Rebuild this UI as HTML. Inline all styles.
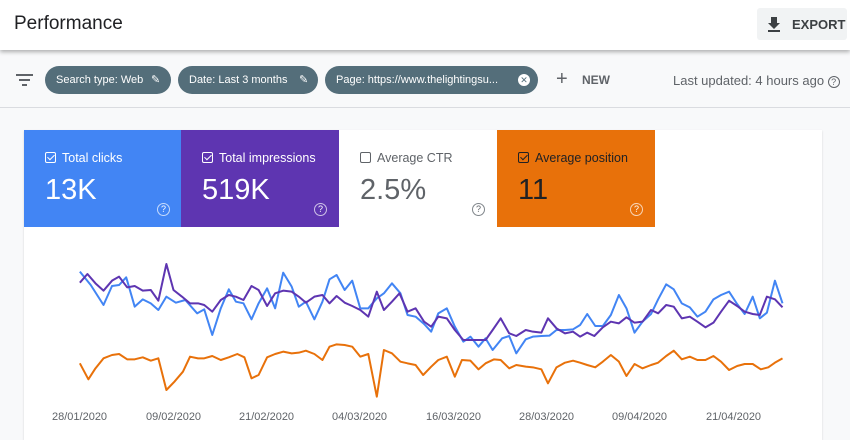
<!DOCTYPE html>
<html><head><meta charset="utf-8"><style>
*{margin:0;padding:0;box-sizing:border-box}
body{width:850px;height:434px;overflow:hidden;background:#f8f9fa;font-family:"Liberation Sans",Arial,sans-serif;position:relative}
.hdr{position:absolute;left:0;top:0;width:850px;height:50px;background:#fff;box-shadow:0 2px 4px rgba(0,0,0,.3);z-index:2}
.title{position:absolute;left:14px;top:13px;font-size:19px;color:#202124}
.exp{position:absolute;left:757px;top:8px;width:90px;height:32px;background:#f1f3f4;border-radius:3px;font-size:13px;color:#3c4043;font-weight:bold}
.chip{position:absolute;top:66px;height:28px;border-radius:14px;background:#546e7a;color:#fff;font-size:11px;line-height:28px;padding-left:11px;white-space:nowrap}
.chip .p{position:absolute;top:0}
.t{position:absolute;color:#5f6368;font-size:13px}
.tile{position:absolute;top:130px;height:97px;width:158px;color:#fff}
.tile .l{position:absolute;left:21px;top:21px;font-size:12.5px}
.tile .v{position:absolute;left:21px;top:44px;font-size:29px}
.tile .q{position:absolute;left:133px;top:73px;width:13px;height:13px;border:1.3px solid rgba(255,255,255,.7);border-radius:50%;font-size:9px;text-align:center;line-height:11px}
.cb{display:inline-block;width:11px;height:11px;border:1.4px solid #fff;border-radius:2px;margin-right:6px;vertical-align:-1px;position:relative}
.cb.k:after{content:"";position:absolute;left:2.5px;top:0px;width:3px;height:6px;border:solid currentColor;border-width:0 1.5px 1.5px 0;transform:rotate(45deg)}
.x{position:absolute;top:411px;font-size:11px;color:#5f6368}
</style></head><body>
<div class="hdr"><div class="title">Performance</div>
<div class="exp"><svg style="position:absolute;left:10px;top:8px" width="14" height="16"><path d="M4 1h6v6h3l-6 6-6-6h3z" fill="#3c4043"/><rect x="1" y="14" width="12" height="2" fill="#3c4043"/></svg><span style="position:absolute;left:35px;top:9px">EXPORT</span></div></div>
<svg style="position:absolute;left:16px;top:73px" width="18" height="14"><rect x="0" y="1" width="17" height="2" fill="#5f6368"/><rect x="3" y="6" width="11" height="2" fill="#5f6368"/><rect x="6" y="11" width="5" height="2" fill="#5f6368"/></svg>
<div class="chip" style="left:45px;width:126px">Search type: Web<span class="p" style="left:106px">✎</span></div>
<div class="chip" style="left:178px;width:140px">Date: Last 3 months<span class="p" style="left:121px">✎</span></div>
<div class="chip" style="left:325px;width:213px">Page: https://www.thelightingsu...<span style="position:absolute;left:193px;top:8px;width:12px;height:12px;background:#fff;border-radius:50%;color:#546e7a;font-size:9px;line-height:12px;text-align:center">✕</span></div>
<div class="t" style="left:556px;top:70px;font-size:20px;line-height:18px">+</div>
<div class="t" style="left:582px;top:73px;font-weight:bold;font-size:12px">NEW</div>
<div class="t" style="left:673px;top:73px">Last updated: 4 hours ago <span style="display:inline-block;width:12px;height:12px;border:1px solid #5f6368;border-radius:50%;font-size:9px;text-align:center;line-height:10px">?</span></div>
<div style="position:absolute;left:0;top:107px;width:850px;height:1px;background:#dadce0"></div>
<div style="position:absolute;left:24px;top:130px;width:798px;height:310px;background:#fff;box-shadow:0 1px 2px rgba(0,0,0,.15)"></div>
<div class="tile" style="left:24px;background:#4285f4"><div class="l"><span class="cb k"></span>Total clicks</div><div class="v">13K</div><div class="q">?</div></div>
<div class="tile" style="left:181px;background:#5e35b1"><div class="l"><span class="cb k"></span>Total impressions</div><div class="v">519K</div><div class="q">?</div></div>
<div class="tile" style="left:339px;color:#5f6368;background:#fff"><div class="l"><span class="cb" style="border-color:#5f6368"></span>Average CTR</div><div class="v">2.5%</div><div class="q" style="border-color:#80868b">?</div></div>
<div class="tile" style="left:497px;background:#e8710a;color:#202124"><div class="l"><span class="cb k" style="border-color:#202124"></span>Average position</div><div class="v">11</div><div class="q" style="border-color:rgba(255,255,255,.7);color:#fff">?</div></div>
<svg style="position:absolute;left:60px;top:250px" width="740" height="150" viewBox="0 0 1565 450" preserveAspectRatio="none" fill="none" stroke-width="2" stroke-linejoin="round">
<g vector-effect="non-scaling-stroke">
<polyline vector-effect="non-scaling-stroke" stroke="#4285f4" points="42,65 65,105 92,165 110,108 125,105 140,82 158,170 175,148 192,160 208,180 225,140 245,158 265,150 290,190 305,178 322,255 340,175 357,118 372,155 388,160 405,208 420,160 438,115 455,175 472,68 490,110 505,170 520,155 538,208 555,155 570,88 585,75 602,120 618,92 635,175 652,175 670,145 685,130 702,100 720,130 735,195 752,200 770,222 785,245 800,190 818,175 835,230 853,275 868,260 885,290 900,265 915,300 935,265 950,258 965,310 985,268 1000,260 1018,258 1035,257 1050,240 1068,240 1085,238 1100,225 1115,192 1132,228 1148,228 1165,195 1182,135 1198,175 1215,248 1232,215 1250,192 1265,148 1282,103 1298,118 1315,160 1332,172 1348,200 1365,185 1382,148 1398,135 1415,125 1432,162 1448,192 1465,140 1480,205 1495,188 1512,92 1528,160"/>
<polyline vector-effect="non-scaling-stroke" stroke="#5e35b1" points="42,98 58,72 75,100 92,122 110,92 125,80 142,112 158,108 175,122 192,120 208,152 225,42 240,120 258,140 275,160 292,160 305,165 322,185 340,150 357,135 372,140 388,150 405,108 420,120 438,168 455,130 472,122 490,125 505,140 520,158 538,140 555,135 570,160 585,138 602,158 618,168 635,180 652,200 670,125 685,180 702,155 718,130 735,185 752,175 770,215 785,230 800,200 818,205 835,240 853,270 868,270 885,270 900,270 915,240 932,205 950,250 965,258 985,240 1000,245 1018,248 1032,205 1050,235 1068,250 1085,245 1100,260 1115,248 1130,258 1148,232 1165,215 1182,220 1198,202 1215,218 1232,215 1250,180 1265,190 1282,165 1298,170 1315,205 1332,200 1348,215 1365,232 1382,218 1398,185 1415,152 1432,168 1448,185 1465,192 1480,195 1495,140 1512,148 1528,172"/>
<polyline vector-effect="non-scaling-stroke" stroke="#e8710a" points="42,340 60,388 75,355 92,325 110,315 125,312 142,328 158,328 175,322 192,332 208,325 225,420 242,395 260,365 275,320 292,325 305,325 322,318 340,330 357,322 375,312 390,322 405,385 420,375 438,322 455,312 472,305 490,310 505,308 520,302 538,312 555,330 570,290 585,283 602,285 618,290 635,320 652,312 670,440 685,300 702,310 720,335 735,340 752,345 768,375 785,350 800,330 818,320 835,380 850,330 868,332 885,358 900,340 918,328 932,330 950,355 965,345 985,350 1000,352 1018,358 1032,400 1050,352 1068,338 1085,332 1100,338 1115,345 1132,352 1148,335 1165,315 1182,335 1198,378 1215,342 1232,355 1250,345 1265,338 1282,318 1298,302 1315,328 1332,320 1348,330 1365,330 1382,318 1398,335 1415,360 1432,348 1448,342 1465,342 1482,358 1498,352 1512,338 1528,325"/>
</g></svg>
<div class="x" style="left:52px">28/01/2020</div>
<div class="x" style="left:146px">09/02/2020</div>
<div class="x" style="left:239px">21/02/2020</div>
<div class="x" style="left:332px">04/03/2020</div>
<div class="x" style="left:426px">16/03/2020</div>
<div class="x" style="left:519px">28/03/2020</div>
<div class="x" style="left:612px">09/04/2020</div>
<div class="x" style="left:706px">21/04/2020</div>
</body></html>
